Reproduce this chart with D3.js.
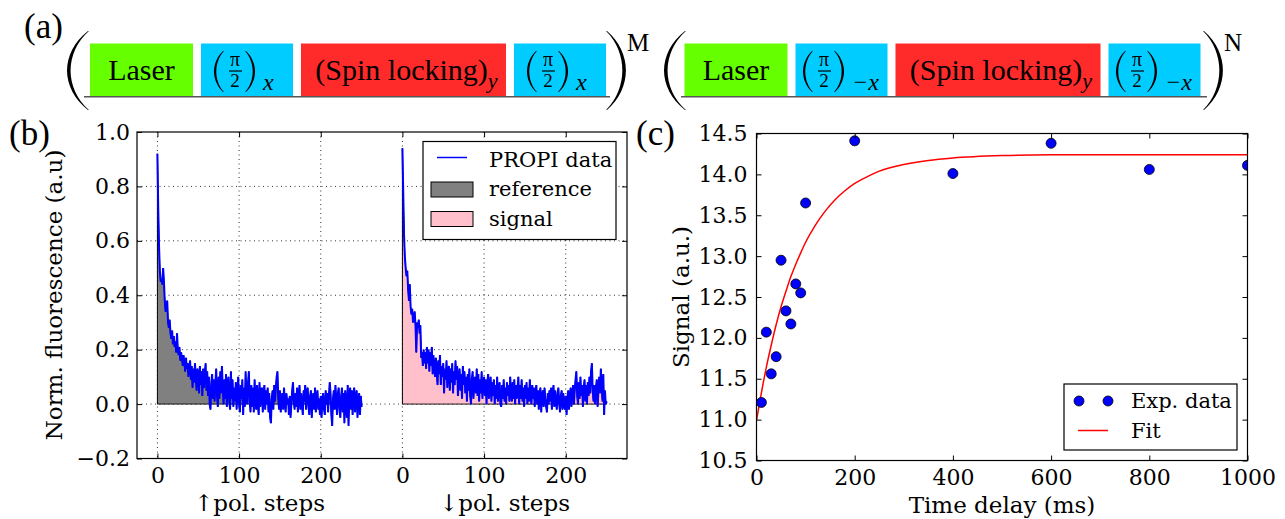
<!DOCTYPE html>
<html><head><meta charset="utf-8">
<script src="https://cdn.jsdelivr.net/npm/d3@7"></script>
<style>body{margin:0;background:#fff}svg{display:block}</style>
</head><body><svg id="chart" width="1285" height="519"></svg>
<script>
// ---------- data ----------
const refTrace = [
0.92,0.72,0.58,0.49,0.45,0.46,0.44,0.50,0.45,0.38,
0.34,0.36,0.38,0.30,0.28,0.31,0.26,0.24,0.27,0.22,
0.25,0.21,0.23,0.19,0.26,0.20,0.18,0.21,0.16,0.19,
0.17,0.14,0.18,0.15,0.12,0.17,0.13,0.15,0.10,0.14,
0.16,0.09,0.14,0.06,0.13,0.08,0.15,0.10,0.05,0.13,
0.11,0.04,0.14,0.07,0.12,0.03,0.13,0.06,0.11,0.15,
0.05,0.12,0.03,0.10,0.00,-0.02,0.08,0.11,0.02,0.09,
0.01,0.08,0.13,0.03,-0.01,0.10,0.02,0.12,0.04,0.14,
0.06,0.00,0.09,0.02,0.11,-0.01,0.07,0.10,0.01,-0.02,
0.12,0.02,0.09,-0.01,0.06,0.01,0.08,-0.02,0.05,0.10,
0.00,-0.03,0.07,0.02,0.09,-0.04,0.06,-0.01,0.12,0.03,
0.00,0.08,0.12,0.01,-0.03,0.07,-0.01,0.06,-0.03,0.09,
0.02,-0.02,0.07,0.00,-0.04,0.08,-0.01,0.05,0.06,-0.03,
0.04,0.07,-0.02,0.05,0.00,0.06,-0.03,0.04,-0.05,-0.07,
0.02,0.05,-0.02,0.07,0.01,0.06,0.10,0.12,0.02,-0.02,
0.05,-0.03,0.02,0.04,-0.02,0.06,0.01,-0.03,0.04,0.00,
0.02,-0.04,0.03,-0.05,0.00,0.05,0.08,0.01,-0.02,0.04,
-0.01,0.06,-0.03,0.03,0.07,-0.02,0.04,0.00,-0.04,0.05,
0.01,0.07,-0.02,0.04,0.06,-0.01,-0.04,0.03,0.05,-0.05,
0.02,0.04,-0.02,0.06,-0.03,0.03,0.05,-0.02,0.02,-0.04,
0.03,-0.05,0.02,0.04,-0.02,-0.04,0.05,0.00,0.04,-0.03,
0.03,0.08,0.04,-0.04,-0.08,0.02,0.05,-0.02,0.07,0.01,
-0.04,0.04,0.06,-0.02,-0.05,0.03,0.06,-0.03,0.04,-0.07,
0.05,0.00,-0.05,0.07,-0.08,0.03,0.06,-0.02,0.05,-0.04,
0.04,0.06,-0.03,0.03,0.05,-0.05,0.02,0.04,-0.04,0.03,
-0.01];
const sigTrace = [
0.94,0.78,0.62,0.54,0.50,0.47,0.49,0.42,0.38,0.44,
0.36,0.33,0.35,0.30,0.31,0.34,0.29,0.19,0.30,0.28,
0.31,0.26,0.29,0.17,0.19,0.14,0.20,0.15,0.19,0.13,
0.21,0.15,0.20,0.12,0.19,0.14,0.21,0.11,0.18,0.13,
0.10,0.17,0.12,0.07,0.16,0.11,0.18,0.07,0.14,0.10,
0.15,0.04,0.13,0.09,0.16,0.06,0.12,0.14,0.05,0.13,
0.08,0.15,0.04,0.12,0.07,0.16,0.09,0.14,0.03,0.10,
0.13,0.05,0.11,0.02,0.14,0.07,0.12,0.04,0.10,0.01,
0.11,0.05,0.13,0.03,0.00,0.09,0.12,0.02,0.08,0.10,
0.04,0.13,0.03,0.11,0.01,0.09,0.04,0.12,0.02,0.08,
0.10,0.03,0.09,0.00,0.08,0.11,0.02,0.07,0.10,0.01,
0.08,0.03,0.09,0.00,0.07,0.02,0.10,0.01,0.06,0.08,
0.00,-0.01,0.07,0.02,0.09,0.01,0.06,0.00,0.08,0.03,
0.07,0.01,0.10,0.04,0.01,0.08,0.02,0.09,0.00,0.07,
0.02,0.06,0.10,0.00,0.07,0.02,0.09,0.01,0.06,-0.01,
0.07,0.02,0.08,0.00,0.06,0.01,0.09,0.03,0.00,0.07,
0.02,0.06,-0.01,0.05,0.07,0.00,0.05,-0.02,0.04,0.06,
-0.03,0.03,0.05,-0.01,0.06,0.02,-0.01,-0.03,0.04,0.00,
0.05,0.01,0.06,-0.02,0.04,0.07,-0.01,0.05,0.01,-0.02,
0.04,0.06,0.00,-0.03,0.03,0.05,-0.02,0.04,0.00,-0.02,
0.03,-0.04,0.02,0.05,-0.02,0.03,0.06,-0.01,0.04,0.07,
0.00,0.05,0.09,0.12,0.03,0.00,0.08,0.02,0.10,0.03,
0.07,-0.01,0.06,0.09,0.01,0.07,0.00,0.08,0.03,0.10,
0.04,0.12,0.15,0.05,0.01,0.07,0.00,0.06,0.09,-0.01,
0.05,0.10,0.04,0.13,0.06,0.01,0.11,-0.04,0.05,0.00,
0.01];
const sigStart = 300;
const bXTicks = [0,100,200,300,400,500];
const bXTickLabels = ["0","100","200","0","100","200"];
const bYTicks = [-0.2,0.0,0.2,0.4,0.6,0.8,1.0];

const delays = [10,20,30,40,50,60,70,80,90,100,200,400,600,800,1000];
const signalVals = [11.21,12.07,11.56,11.77,12.95,12.33,12.17,12.66,12.55,13.65,14.41,14.01,14.38,14.06,14.11];
const fitT = [0,10,20,30,40,50,60,70,80,90,100,120,140,160,180,200,225,250,300,350,400,500,600,800,1000];
const fitV = [10.99,11.33,11.64,11.91,12.16,12.38,12.57,12.75,12.90,13.04,13.17,13.38,13.55,13.69,13.80,13.89,13.97,14.04,14.12,14.17,14.20,14.23,14.24,14.24,14.24];
const cXTicks = [0,200,400,600,800,1000];
const cYTicks = [10.5,11.0,11.5,12.0,12.5,13.0,13.5,14.0,14.5];

const seqLabels = ["Laser","pi","spin","pi"];
const seqColors = ["#66ff00","#00ccff","#ff2a2a","#00ccff"];
const seqSubs1 = ["","x","y","x"];
const seqSubs2 = ["","\u2212x","y","\u2212x"];

// ---------- setup ----------
const svg = d3.select("#chart");
const SERIF = "'DejaVu Serif', serif";
const TEX = "'Liberation Serif', 'Times New Roman', serif";
const TICK_FS = 22, LABEL_FS = 23, LEG_FS = 21;

function parenPath(xOuter, xTip, y0, y1, t) {
  const h = y1 - y0, s = Math.sign(xTip - xOuter);
  const c1 = (xOuter - 0.25 * xTip) / 0.75;
  const tip2 = xTip + s * 0.9;
  const c2 = ((xOuter + s * t) - 0.25 * tip2) / 0.75;
  return `M${xTip},${y0} C${c1},${y0 + h * 0.28} ${c1},${y1 - h * 0.28} ${xTip},${y1}` +
         ` L${tip2},${y1} C${c2},${y1 - h * 0.28} ${c2},${y0 + h * 0.28} ${tip2},${y0} Z`;
}

// ---------- panel labels ----------
svg.append("text").attr("x", 24).attr("y", 38).attr("font-family", TEX).attr("font-size", 35).text("(a)");
svg.append("text").attr("x", 9).attr("y", 145).attr("font-family", TEX).attr("font-size", 35).text("(b)");
svg.append("text").attr("x", 636).attr("y", 145).attr("font-family", TEX).attr("font-size", 35).text("(c)");

// ---------- panel (a) ----------
const segW = [103, 92, 205, 92];
const gap = 8;
function drawGroup(x0, subs, supText, parL, parR) {
  const g = svg.append("g");
  const total = d3.sum(segW) + gap * 3;
  const pos = d3.scaleLinear().domain([0, total]).range([x0, x0 + total]);
  g.append("line").attr("x1", parL + 17).attr("x2", parR - 16).attr("y1", 96.8).attr("y2", 96.8)
    .attr("stroke", "#555").attr("stroke-width", 1.5);
  let acc = 0;
  seqLabels.forEach((lab, i) => {
    const bx0 = pos(acc), w = segW[i];
    g.append("rect").attr("x", bx0).attr("y", 43.5).attr("width", w).attr("height", 52.5).attr("fill", seqColors[i]);
    const cx = bx0 + w / 2;
    if (lab === "Laser") {
      g.append("text").attr("x", cx).attr("y", 79.5).attr("text-anchor", "middle")
        .attr("font-family", TEX).attr("font-size", 30).text("Laser");
    } else if (lab === "spin") {
      const t = g.append("text").attr("x", cx + 3).attr("y", 79.5).attr("text-anchor", "middle")
        .attr("font-family", TEX).attr("font-size", 30);
      t.append("tspan").text("(Spin locking)");
      t.append("tspan").attr("font-style", "italic").attr("font-size", 22).attr("dy", 8).text(subs[i]);
    } else {
      const subW = subs[i].length > 1 ? 23 : 12;
      const cw = 50 + subW;
      const L = bx0 + (w - cw) / 2 - 2;
      g.append("path").attr("d", parenPath(L, L + 9, 51, 92, 2.3)).attr("fill", "#000");
      g.append("text").attr("x", L + 21).attr("y", 66).attr("text-anchor", "middle")
        .attr("font-family", TEX).attr("font-size", 20).text("\u03c0");
      g.append("line").attr("x1", L + 15).attr("x2", L + 28).attr("y1", 71).attr("y2", 71)
        .attr("stroke", "#000").attr("stroke-width", 1.2);
      g.append("text").attr("x", L + 21).attr("y", 87).attr("text-anchor", "middle")
        .attr("font-family", TEX).attr("font-size", 19).text("2");
      g.append("path").attr("d", parenPath(L + 41, L + 32, 51, 92, 2.3)).attr("fill", "#000");
      g.append("text").attr("x", L + 49).attr("y", 90).attr("font-family", TEX)
        .attr("font-style", "italic").attr("font-size", 24).text(subs[i]);
    }
    acc += w + gap;
  });
  g.append("path").attr("d", parenPath(parL, parL + 21, 31, 110, 3.6)).attr("fill", "#000");
  g.append("path").attr("d", parenPath(parR, parR - 19, 31, 110, 3.6)).attr("fill", "#000");
  g.append("text").attr("x", parR + 1).attr("y", 51).attr("font-family", TEX).attr("font-size", 25).text(supText);
}
drawGroup(90, seqSubs1, "M", 67, 626);
drawGroup(684.5, seqSubs2, "N", 664, 1223);

// ---------- panel (b) ----------
const bL = 137, bR = 627, bT = 132, bB = 458.5;
const bx = d3.scaleLinear().domain([-25, 575]).range([bL, bR]);
const by = d3.scaleLinear().domain([-0.2, 1.0]).range([bB, bT]);
const pb = svg.append("g");
svg.append("clipPath").attr("id", "clipB").append("rect").attr("x", bL).attr("y", bT).attr("width", bR - bL).attr("height", bB - bT);

pb.selectAll(".gx").data(bXTicks).join("line")
  .attr("x1", d => bx(d)).attr("x2", d => bx(d)).attr("y1", bT).attr("y2", bB)
  .attr("stroke", "#000").attr("stroke-width", 1).attr("stroke-dasharray", "1,3.5").attr("opacity", 0.8);
pb.selectAll(".gy").data(bYTicks.slice(1, -1)).join("line")
  .attr("x1", bL).attr("x2", bR).attr("y1", d => by(d)).attr("y2", d => by(d))
  .attr("stroke", "#000").attr("stroke-width", 1).attr("stroke-dasharray", "1,3.5").attr("opacity", 0.8);

const refPts = refTrace.map((v, i) => [i, v]);
const sigPts = sigTrace.map((v, i) => [sigStart + i, v]);
const area = d3.area().x(d => bx(d[0])).y0(by(0)).y1(d => by(d[1]));
const line = d3.line().x(d => bx(d[0])).y(d => by(d[1]));
const dataG = pb.append("g").attr("clip-path", "url(#clipB)");
dataG.append("path").attr("d", area(refPts)).attr("fill", "#808080").attr("stroke", "#000").attr("stroke-width", 1);
dataG.append("path").attr("d", area(sigPts)).attr("fill", "#ffc0cb").attr("stroke", "#000").attr("stroke-width", 1);
dataG.append("path").attr("d", line(refPts)).attr("fill", "none").attr("stroke", "#0000ff").attr("stroke-width", 2);
dataG.append("path").attr("d", line(sigPts)).attr("fill", "none").attr("stroke", "#0000ff").attr("stroke-width", 2);

function styleAxis(g) {
  g.select(".domain").remove();
  g.selectAll("line").attr("stroke", "#000").attr("stroke-width", 1);
  g.attr("font-family", SERIF).attr("font-size", TICK_FS);
  g.selectAll("text").attr("fill", "#000");
}
pb.append("g").attr("transform", `translate(0,${bB})`)
  .call(d3.axisBottom(bx).tickValues(bXTicks).tickFormat((d, i) => bXTickLabels[i]).tickSizeInner(-5).tickSizeOuter(0).tickPadding(9))
  .call(styleAxis);
pb.append("g").attr("transform", `translate(0,${bT})`)
  .call(d3.axisTop(bx).tickValues(bXTicks).tickFormat("").tickSizeInner(-5).tickSizeOuter(0)).call(styleAxis);
pb.append("g").attr("transform", `translate(${bL},0)`)
  .call(d3.axisLeft(by).tickValues(bYTicks).tickFormat(d => d.toFixed(1).replace("-", "\u2212")).tickSizeInner(-5).tickSizeOuter(0).tickPadding(7))
  .call(styleAxis);
pb.append("g").attr("transform", `translate(${bR},0)`)
  .call(d3.axisRight(by).tickValues(bYTicks).tickFormat("").tickSizeInner(-5).tickSizeOuter(0)).call(styleAxis);
pb.append("rect").attr("x", bL).attr("y", bT).attr("width", bR - bL).attr("height", bB - bT)
  .attr("fill", "none").attr("stroke", "#000").attr("stroke-width", 1.2);

pb.append("text").attr("transform", "translate(62,295) rotate(-90)").attr("text-anchor", "middle")
  .attr("font-family", SERIF).attr("font-size", LABEL_FS).text("Norm. fluorescence (a.u)");
pb.append("text").attr("x", bx(125)).attr("y", 511).attr("text-anchor", "middle")
  .attr("font-family", SERIF).attr("font-size", LABEL_FS).text("\u2191pol. steps");
pb.append("text").attr("x", bx(sigStart + 125)).attr("y", 511).attr("text-anchor", "middle")
  .attr("font-family", SERIF).attr("font-size", LABEL_FS).text("\u2193pol. steps");

// legend b
const lb = pb.append("g");
lb.append("rect").attr("x", 423).attr("y", 141.5).attr("width", 193).attr("height", 98)
  .attr("fill", "#fff").attr("stroke", "#000").attr("stroke-width", 1.2);
lb.append("line").attr("x1", 437).attr("x2", 467).attr("y1", 157.5).attr("y2", 157.5).attr("stroke", "#0000ff").attr("stroke-width", 1.5);
lb.append("rect").attr("x", 431).attr("y", 182).attr("width", 42).attr("height", 15).attr("fill", "#808080").attr("stroke", "#000").attr("stroke-width", 1);
lb.append("rect").attr("x", 431).attr("y", 211.5).attr("width", 42).attr("height", 15).attr("fill", "#ffc0cb").attr("stroke", "#000").attr("stroke-width", 1);
[["PROPI data", 166.5], ["reference", 196], ["signal", 225.5]].forEach(([t, y]) => {
  lb.append("text").attr("x", 489).attr("y", y).attr("font-family", SERIF).attr("font-size", LEG_FS).text(t);
});

// ---------- panel (c) ----------
const cL = 756.5, cR = 1247.5, cT = 133.5, cB = 460.5;
const cx = d3.scaleLinear().domain([0, 1000]).range([cL, cR]);
const cy = d3.scaleLinear().domain([10.5, 14.5]).range([cB, cT]);
const pc = svg.append("g");
svg.append("clipPath").attr("id", "clipC").append("rect").attr("x", cL).attr("y", cT).attr("width", cR - cL).attr("height", cB - cT);
const cData = pc.append("g").attr("clip-path", "url(#clipC)");
cData.append("path").datum(fitT.map((t, i) => [t, fitV[i]]))
  .attr("d", d3.line().x(d => cx(d[0])).y(d => cy(d[1])).curve(d3.curveMonotoneX))
  .attr("fill", "none").attr("stroke", "#ff0000").attr("stroke-width", 1.5);
cData.selectAll("circle").data(delays.map((t, i) => [t, signalVals[i]])).join("circle")
  .attr("cx", d => cx(d[0])).attr("cy", d => cy(d[1])).attr("r", 5)
  .attr("fill", "#0000ff").attr("stroke", "#000").attr("stroke-width", 0.8);

pc.append("g").attr("transform", `translate(0,${cB})`)
  .call(d3.axisBottom(cx).tickValues(cXTicks).tickFormat(d3.format("d")).tickSizeInner(-5).tickSizeOuter(0).tickPadding(9))
  .call(styleAxis);
pc.append("g").attr("transform", `translate(0,${cT})`)
  .call(d3.axisTop(cx).tickValues(cXTicks).tickFormat("").tickSizeInner(-5).tickSizeOuter(0)).call(styleAxis);
pc.append("g").attr("transform", `translate(${cL},0)`)
  .call(d3.axisLeft(cy).tickValues(cYTicks).tickFormat(d3.format(".1f")).tickSizeInner(-5).tickSizeOuter(0).tickPadding(9))
  .call(styleAxis);
pc.append("g").attr("transform", `translate(${cR},0)`)
  .call(d3.axisRight(cy).tickValues(cYTicks).tickFormat("").tickSizeInner(-5).tickSizeOuter(0)).call(styleAxis);
pc.append("rect").attr("x", cL).attr("y", cT).attr("width", cR - cL).attr("height", cB - cT)
  .attr("fill", "none").attr("stroke", "#000").attr("stroke-width", 1.2);

pc.append("text").attr("transform", "translate(689,297) rotate(-90)").attr("text-anchor", "middle")
  .attr("font-family", SERIF).attr("font-size", LABEL_FS).text("Signal (a.u.)");
pc.append("text").attr("x", cx(500)).attr("y", 513).attr("text-anchor", "middle")
  .attr("font-family", SERIF).attr("font-size", LABEL_FS).text("Time delay (ms)");

// legend c
const lc = pc.append("g");
lc.append("rect").attr("x", 1064).attr("y", 384).attr("width", 173).attr("height", 66)
  .attr("fill", "#fff").attr("stroke", "#000").attr("stroke-width", 1.2);
[1079, 1108].forEach(x => lc.append("circle").attr("cx", x).attr("cy", 401).attr("r", 5)
  .attr("fill", "#0000ff").attr("stroke", "#000").attr("stroke-width", 0.8));
lc.append("line").attr("x1", 1078).attr("x2", 1108).attr("y1", 430.5).attr("y2", 430.5).attr("stroke", "#ff0000").attr("stroke-width", 1.5);
lc.append("text").attr("x", 1131).attr("y", 408).attr("font-family", SERIF).attr("font-size", LEG_FS).text("Exp. data");
lc.append("text").attr("x", 1131).attr("y", 438).attr("font-family", SERIF).attr("font-size", LEG_FS).text("Fit");
</script></body></html>
